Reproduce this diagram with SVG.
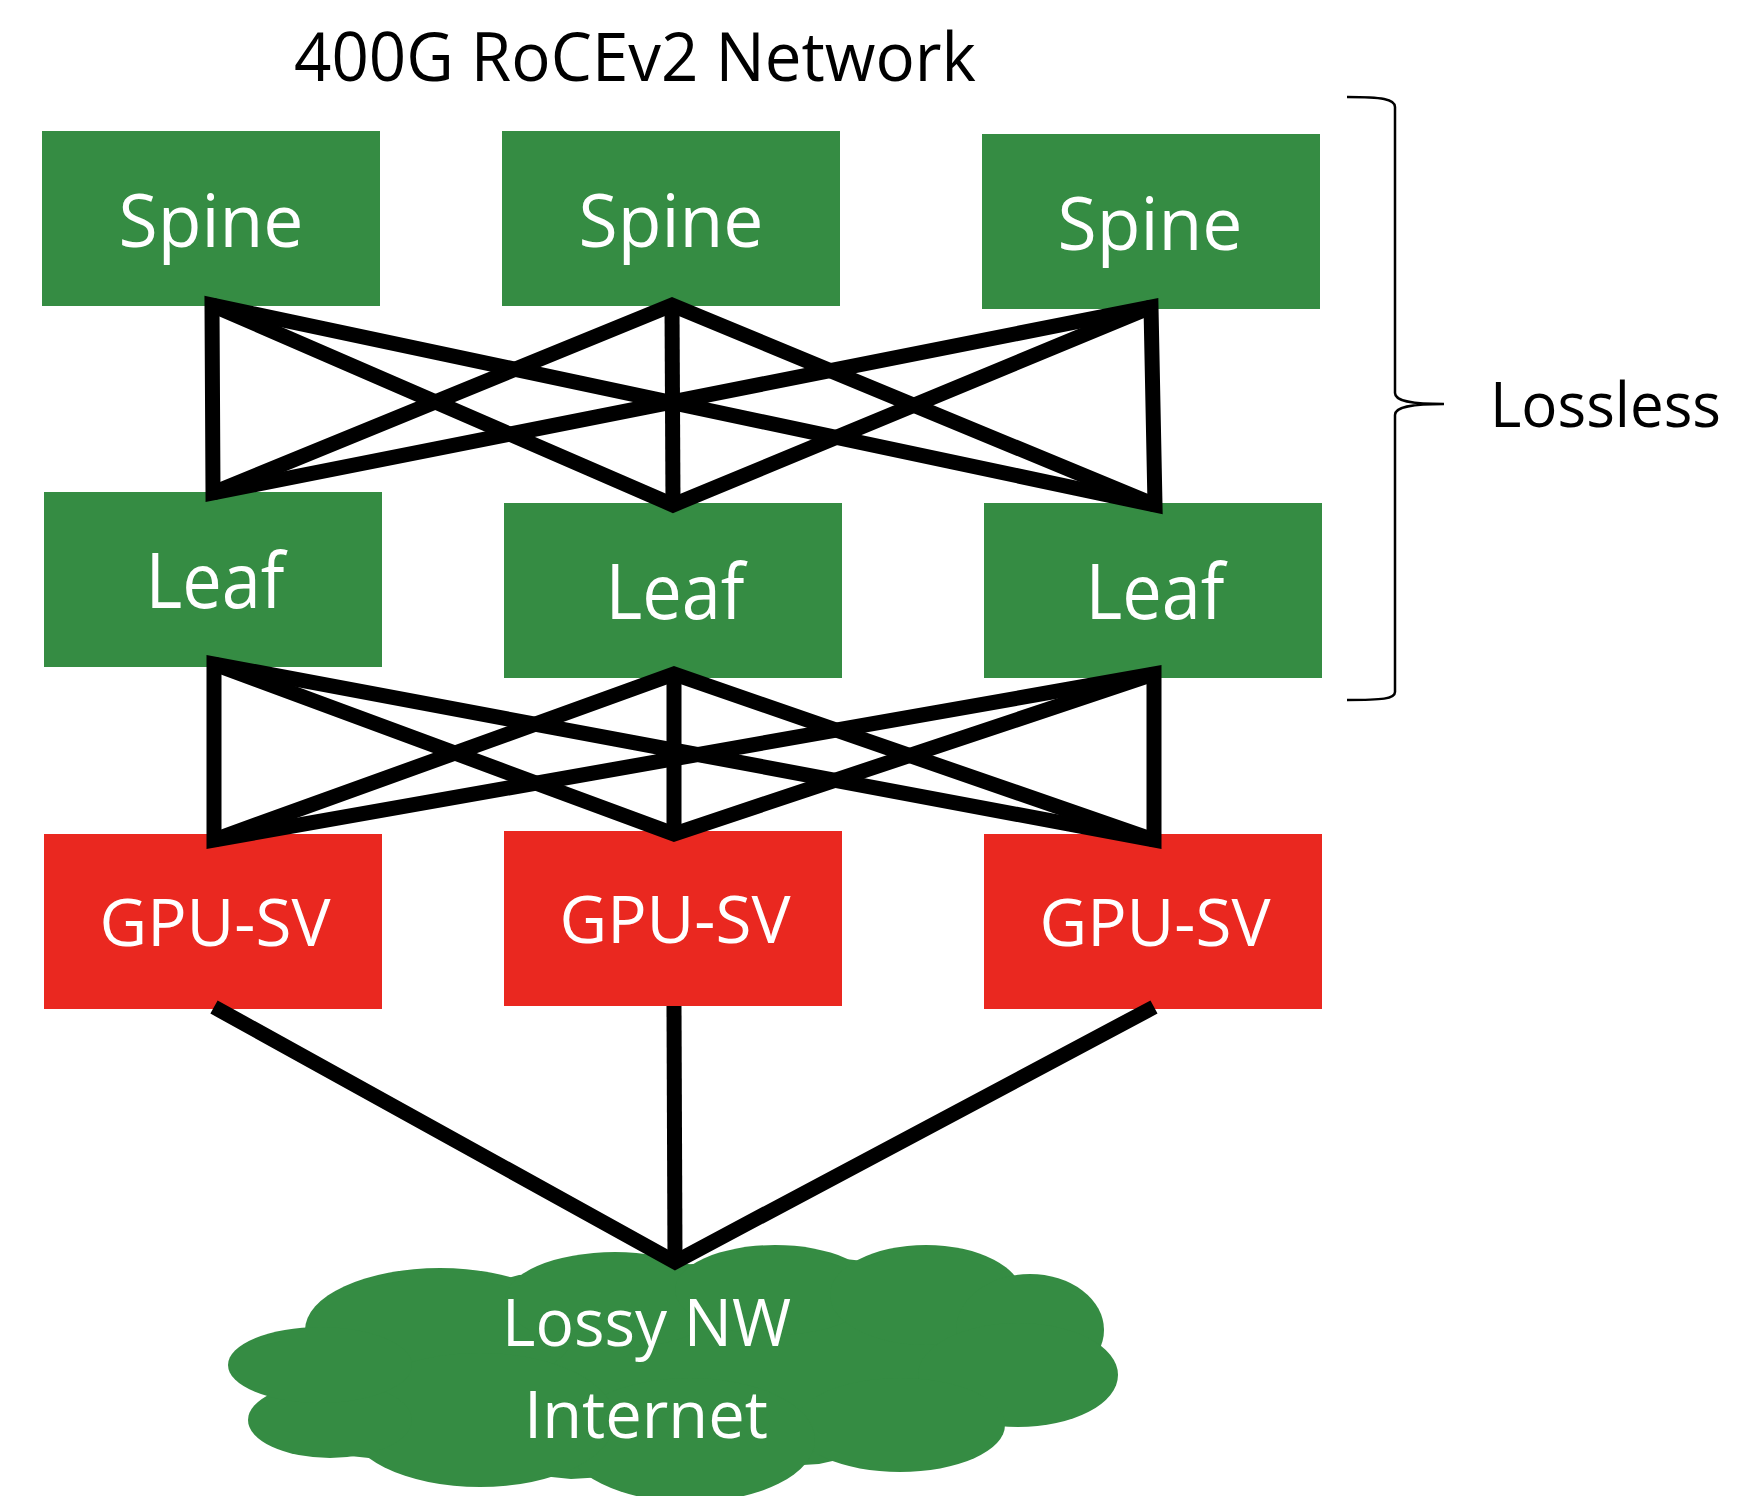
<svg xmlns="http://www.w3.org/2000/svg" width="1738" height="1496" viewBox="0 0 1738 1496">
  <style>
    .green { fill: #358c43; }
    .red { fill: #ea2820; }
    .label { font-family: "Open Sans", "Liberation Sans", sans-serif; fill: #ffffff; }
    .dark { font-family: "Open Sans", "Liberation Sans", sans-serif; fill: #000000; }
    .link { fill: none; stroke: #000000; stroke-width: 15; stroke-linejoin: miter; stroke-miterlimit: 10; }
    .brace { fill: none; stroke: #000000; stroke-width: 2.5; }
  </style>

  <rect width="1738" height="1496" fill="#ffffff"/>

  <!-- title -->
  <text class="dark" x="294" y="81" font-size="67" textLength="682" lengthAdjust="spacingAndGlyphs">400G RoCEv2 Network</text>

  <!-- spine layer -->
  <g id="spine1">
    <rect class="green" x="42" y="131" width="338" height="175"/>
    <text class="label" x="211" y="247" font-size="74" text-anchor="middle" textLength="185" lengthAdjust="spacingAndGlyphs">Spine</text>
  </g>
  <g id="spine2">
    <rect class="green" x="502" y="131" width="338" height="175"/>
    <text class="label" x="671" y="247" font-size="74" text-anchor="middle" textLength="185" lengthAdjust="spacingAndGlyphs">Spine</text>
  </g>
  <g id="spine3">
    <rect class="green" x="982" y="134" width="338" height="175"/>
    <text class="label" x="1150" y="250" font-size="74" text-anchor="middle" textLength="185" lengthAdjust="spacingAndGlyphs">Spine</text>
  </g>

  <!-- leaf layer -->
  <g id="leaf1">
    <rect class="green" x="44" y="492" width="338" height="175"/>
    <text class="label" x="215" y="608" font-size="76" text-anchor="middle" textLength="139" lengthAdjust="spacingAndGlyphs">Leaf</text>
  </g>
  <g id="leaf2">
    <rect class="green" x="504" y="503" width="338" height="175"/>
    <text class="label" x="675" y="619" font-size="76" text-anchor="middle" textLength="139" lengthAdjust="spacingAndGlyphs">Leaf</text>
  </g>
  <g id="leaf3">
    <rect class="green" x="984" y="503" width="338" height="175"/>
    <text class="label" x="1155" y="619" font-size="76" text-anchor="middle" textLength="139" lengthAdjust="spacingAndGlyphs">Leaf</text>
  </g>

  <!-- GPU servers -->
  <g id="gpu1">
    <rect class="red" x="44" y="834" width="338" height="175"/>
    <text class="label" x="215" y="946" font-size="66" text-anchor="middle" textLength="231" lengthAdjust="spacingAndGlyphs">GPU-SV</text>
  </g>
  <g id="gpu2">
    <rect class="red" x="504" y="831" width="338" height="175"/>
    <text class="label" x="675" y="943" font-size="66" text-anchor="middle" textLength="231" lengthAdjust="spacingAndGlyphs">GPU-SV</text>
  </g>
  <g id="gpu3">
    <rect class="red" x="984" y="834" width="338" height="175"/>
    <text class="label" x="1155" y="946" font-size="66" text-anchor="middle" textLength="231" lengthAdjust="spacingAndGlyphs">GPU-SV</text>
  </g>

  <!-- lossy network cloud -->
  <g id="cloud" class="green">
    <polygon points="310,1331 519,1275 693,1264 845,1259 1021,1278 1094,1336 1003,1423 819,1464 571,1479 350,1456 273,1397"/>
    <ellipse cx="440" cy="1330" rx="135" ry="62"/>
    <ellipse cx="615" cy="1300" rx="110" ry="48"/>
    <ellipse cx="775" cy="1290" rx="100" ry="45"/>
    <ellipse cx="926" cy="1295" rx="96" ry="50"/>
    <ellipse cx="1030" cy="1330" rx="74" ry="56"/>
    <ellipse cx="1018" cy="1375" rx="100" ry="52"/>
    <ellipse cx="900" cy="1425" rx="105" ry="47"/>
    <ellipse cx="690" cy="1440" rx="125" ry="62"/>
    <ellipse cx="480" cy="1420" rx="135" ry="67"/>
    <ellipse cx="330" cy="1420" rx="82" ry="38"/>
    <ellipse cx="320" cy="1365" rx="92" ry="38"/>
    <text class="label" x="502" y="1346" font-size="66" textLength="289" lengthAdjust="spacingAndGlyphs">Lossy NW</text>
    <text class="label" x="524" y="1438" font-size="66" textLength="244" lengthAdjust="spacingAndGlyphs">Internet</text>
  </g>

  <!-- links -->
  <g id="connectors">
    <!-- spine to leaf -->
    <polygon class="link" points="212,305 213,493 1151,307 1155,505"/>
    <polyline class="link" points="213,493 672,305 1155,505"/>
    <polyline class="link" points="212,305 673,505 1151,307"/>
    <line class="link" x1="672" y1="305" x2="673" y2="505"/>
    <!-- leaf to GPU -->
    <polygon class="link" points="214,664 214,840 1154,674 1154,840"/>
    <polyline class="link" points="214,840 674,674 1154,840"/>
    <polyline class="link" points="214,664 674,834 1154,674"/>
    <line class="link" x1="674" y1="674" x2="674" y2="834"/>
    <!-- GPU to cloud -->
    <polyline class="link" points="214,1007 675,1262 1154,1007"/>
    <line class="link" x1="674" y1="1006" x2="675" y2="1262"/>
  </g>

  <!-- lossless span brace -->
  <g id="lossless">
    <path class="brace" d="M1347,97 C1382,97 1395,99 1395,107 L1395,393 C1395,401 1410,404 1444,404 C1410,404 1395,407 1395,415 L1395,692 C1395,699 1382,700 1347,700"/>
    <text class="dark" x="1490" y="427" font-size="63" textLength="231" lengthAdjust="spacingAndGlyphs">Lossless</text>
  </g>
</svg>
